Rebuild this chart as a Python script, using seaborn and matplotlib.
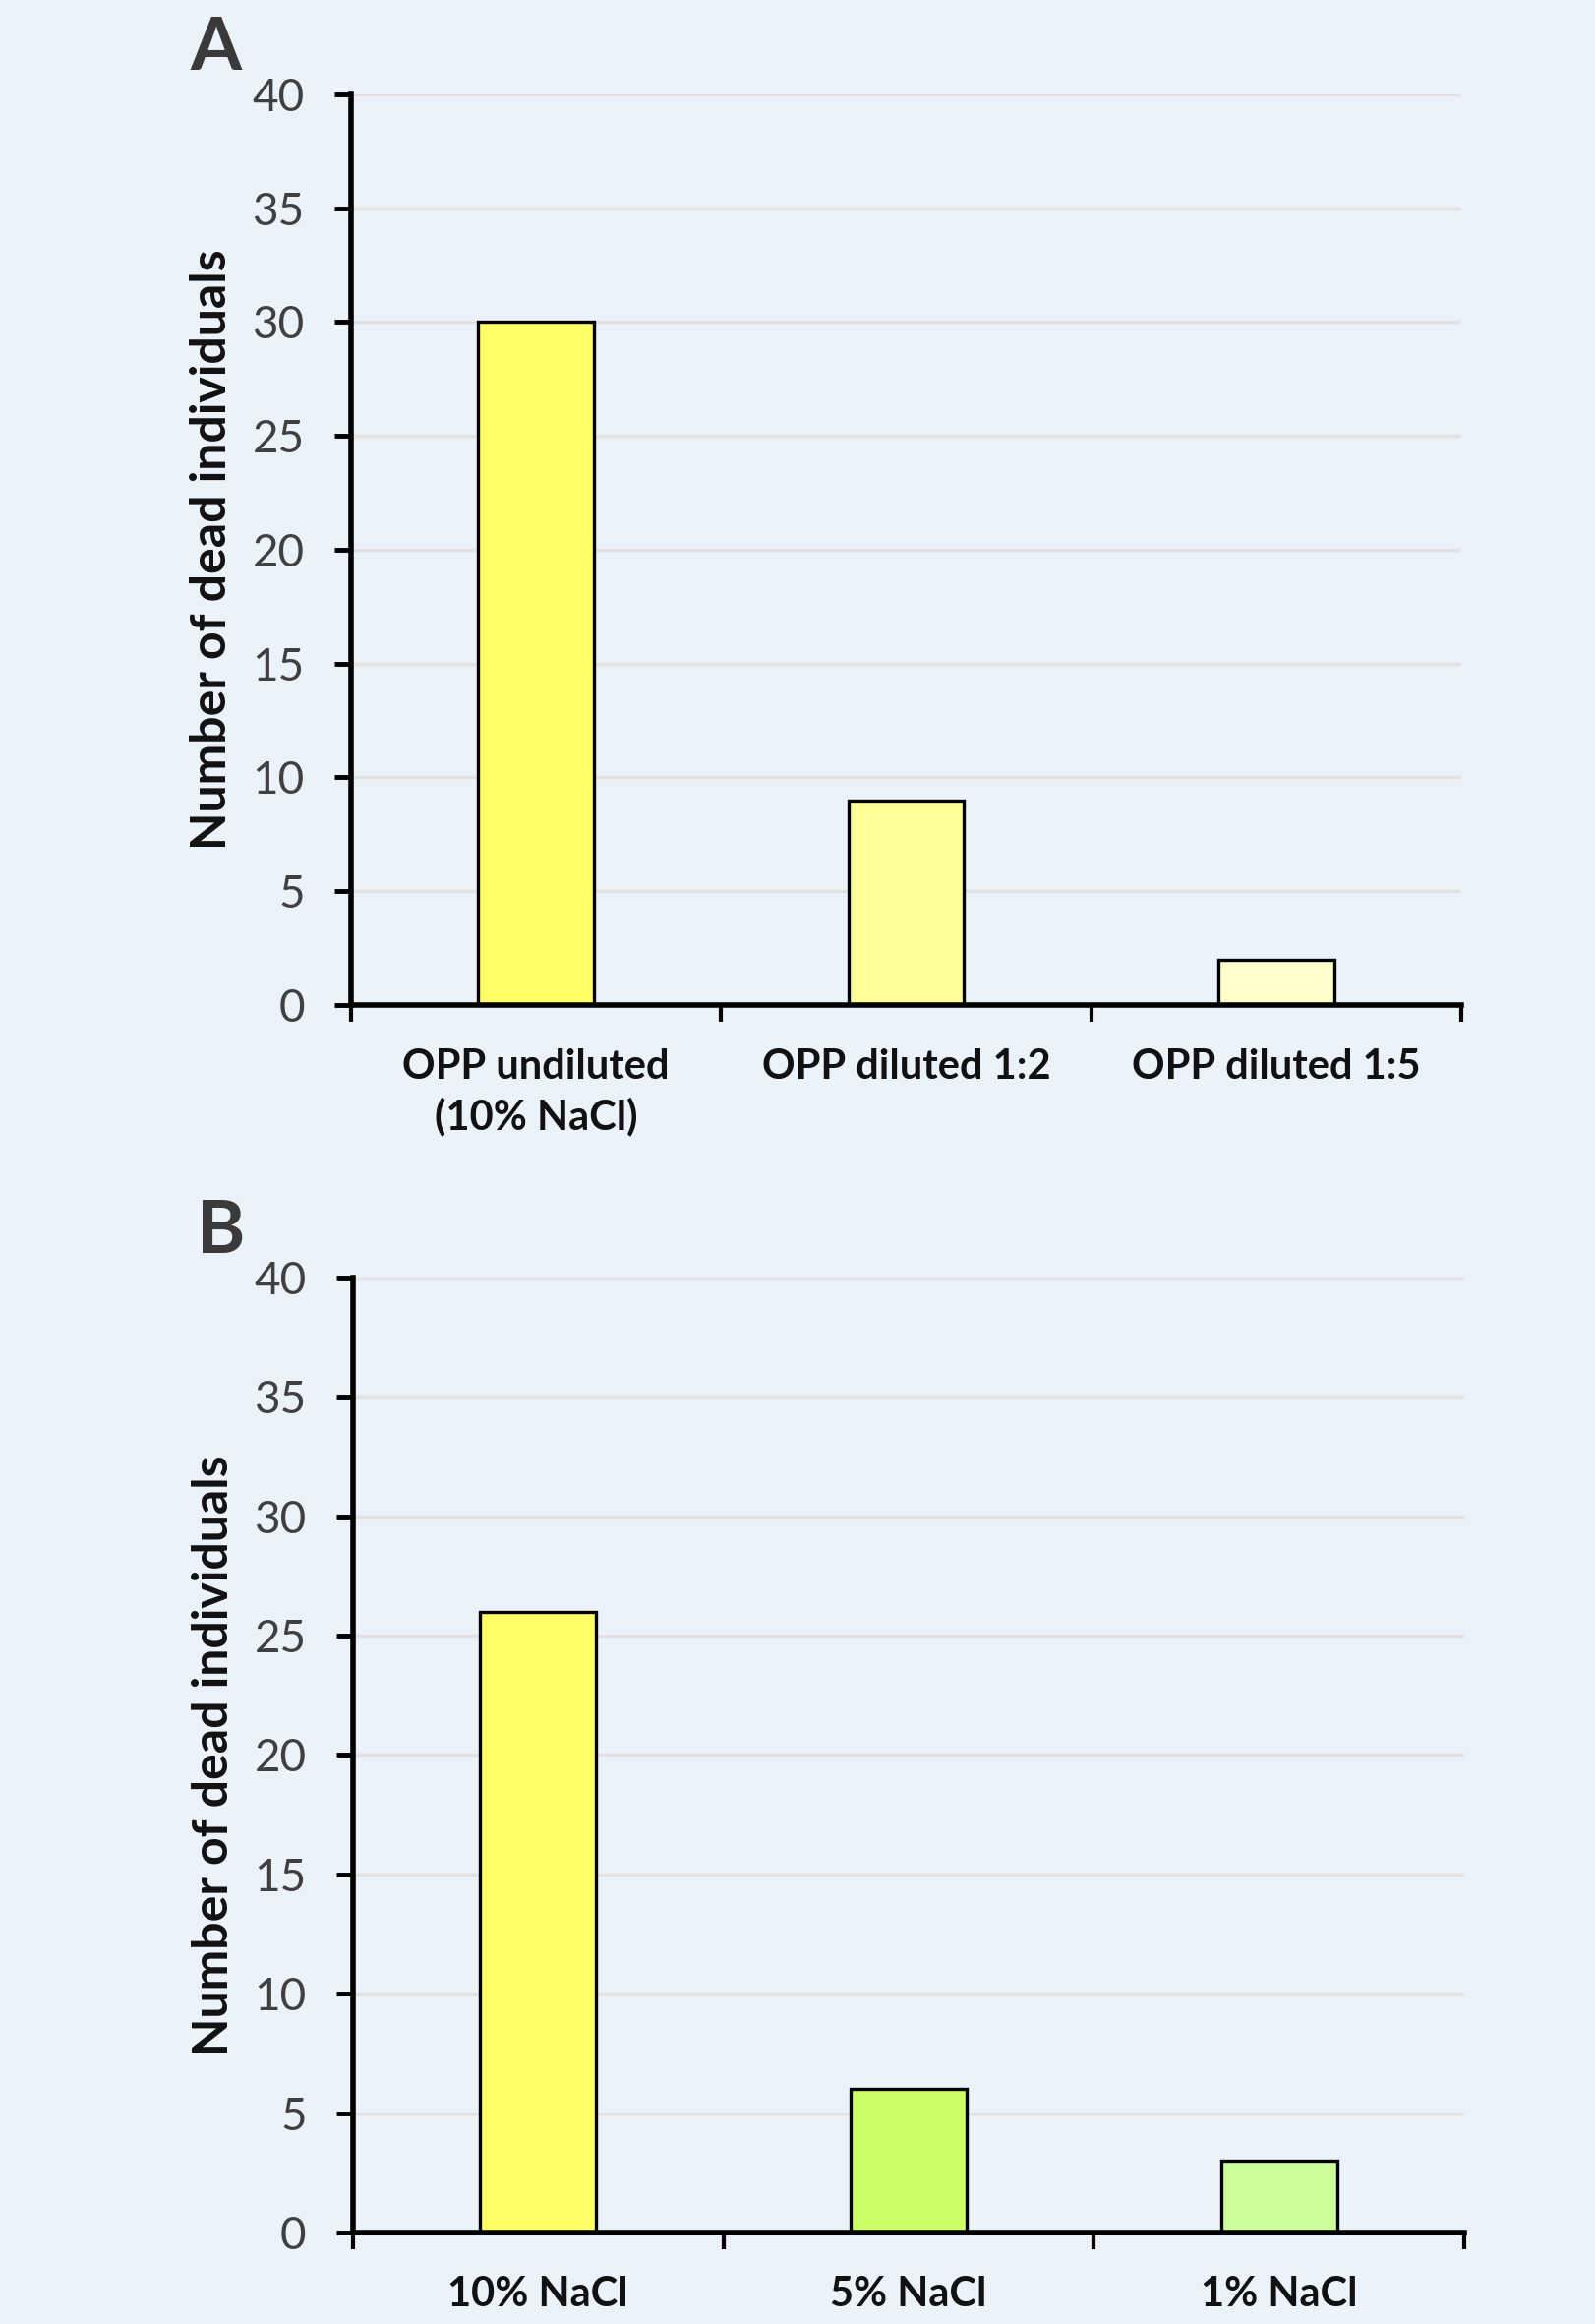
import matplotlib.pyplot as plt
import pandas as pd
import seaborn as sns

# ------------------------------------------------------------
# data
# ------------------------------------------------------------
cats_a = ['OPP undiluted\n(10% NaCl)', 'OPP diluted 1:2', 'OPP diluted 1:5']
dead_a = [30, 9, 2]
colors_a = ['#FFFF66', '#FFFF99', '#FFFFCC']

cats_b = ['10% NaCl', '5% NaCl', '1% NaCl']
dead_b = [26, 6, 3]
colors_b = ['#FFFF66', '#CCFF66', '#CCFF99']

y_ticks = [0, 5, 10, 15, 20, 25, 30, 35, 40]
ylabel = 'Number of dead individuals'

bg = '#EBF2FA'

sns.set_style('white', rc={'axes.facecolor': bg, 'figure.facecolor': bg})
plt.rcParams['font.family'] = ['Lato', 'DejaVu Sans']

fig = plt.figure(figsize=(16.22, 23.63), dpi=100)
ax_a = fig.add_axes([0.2201, 0.5675, 0.6960, 0.3919])
ax_b = fig.add_axes([0.2213, 0.0394, 0.6967, 0.4109])


def draw_panel(ax, cats, vals, colors):
    df = pd.DataFrame({'group': cats, 'dead': vals})
    sns.barplot(data=df, x='group', y='dead', hue='group', palette=colors,
                legend=False, width=0.313, edgecolor='black', linewidth=2.4,
                saturation=1, ax=ax)
    ax.set_xlim(-0.5, 2.5)
    ax.set_ylim(0, 40)
    ax.set_yticks(y_ticks)
    ax.set_xticks([-0.5, 0.5, 1.5, 2.5], minor=True)
    ax.set_xlabel('')
    ax.set_ylabel(ylabel, fontsize=36, fontweight='bold', color='#111111')
    ax.yaxis.set_label_coords(-0.105, 0.5)

    # gridlines
    ax.set_axisbelow(True)
    ax.yaxis.grid(True, color='#E2E2E2', linewidth=2.5)
    ax.xaxis.grid(False)

    # spines
    sns.despine(ax=ax)
    for side in ['left', 'bottom']:
        ax.spines[side].set_linewidth(4)
        ax.spines[side].set_color('black')

    ax.tick_params(axis='y', which='major', direction='out', length=12, width=3.5,
                   color='black', pad=22, labelsize=33, labelcolor='#404040', left=True)
    ax.tick_params(axis='x', which='major', length=0, pad=32, labelsize=30,
                   labelcolor='#111111')
    ax.tick_params(axis='x', which='minor', direction='out', length=12, width=3,
                   color='black', bottom=True)
    for lab in ax.get_xticklabels():
        lab.set_fontweight('bold')
        lab.set_linespacing(1.35)
        lab.set_verticalalignment('top')


draw_panel(ax_a, cats_a, dead_a, colors_a)
draw_panel(ax_b, cats_b, dead_b, colors_b)

# panel letters
fig.text(0.119, 0.970, 'A', fontsize=54, fontweight='bold', color='#3a3a3a', va='baseline')
fig.text(0.123, 0.4609, 'B', fontsize=54, fontweight='bold', color='#3a3a3a', va='baseline')

fig.savefig('out.png', dpi=100, facecolor=bg)
